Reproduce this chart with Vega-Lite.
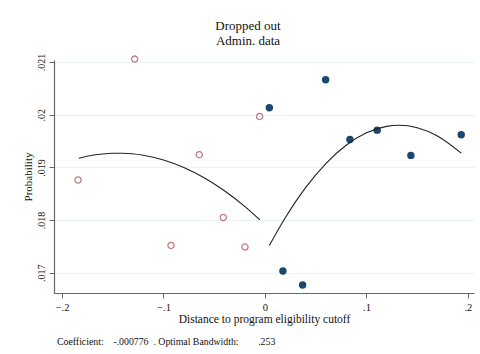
{
  "$schema": "https://vega.github.io/schema/vega-lite/v6.json",
  "autosize": {"type": "pad"},
  "padding": {"left": 22, "top": 20, "right": 7, "bottom": 5},
  "background": "white",
  "title": {
    "text": ["Dropped out", "Admin. data"],
    "font": "Liberation Serif",
    "fontSize": 13,
    "fontWeight": "normal",
    "color": "#111111",
    "anchor": "middle",
    "offset": 5,
    "lineHeight": 15
  },
  "datasets": {
    "pts": [
      {"x": -0.1842, "y": 0.018761, "side": "left"},
      {"x": -0.1284, "y": 0.021057, "side": "left"},
      {"x": -0.0926, "y": 0.017518, "side": "left"},
      {"x": -0.0647, "y": 0.019241, "side": "left"},
      {"x": -0.0411, "y": 0.018049, "side": "left"},
      {"x": -0.0197, "y": 0.017488, "side": "left"},
      {"x": -0.0053, "y": 0.019968, "side": "left"},
      {"x": 0.0043, "y": 0.020133, "side": "right"},
      {"x": 0.0177, "y": 0.017032, "side": "right"},
      {"x": 0.0371, "y": 0.016767, "side": "right"},
      {"x": 0.0598, "y": 0.020664, "side": "right"},
      {"x": 0.0837, "y": 0.019531, "side": "right"},
      {"x": 0.1106, "y": 0.019708, "side": "right"},
      {"x": 0.1438, "y": 0.019228, "side": "right"},
      {"x": 0.1934, "y": 0.01962, "side": "right"}
    ],
    "fit": [
      {"x": -0.1836, "y": 0.019174, "side": "left"},
      {"x": -0.17, "y": 0.01923, "side": "left"},
      {"x": -0.16, "y": 0.019256, "side": "left"},
      {"x": -0.15, "y": 0.019268, "side": "left"},
      {"x": -0.14, "y": 0.019268, "side": "left"},
      {"x": -0.12, "y": 0.01923, "side": "left"},
      {"x": -0.1, "y": 0.019139, "side": "left"},
      {"x": -0.08, "y": 0.018997, "side": "left"},
      {"x": -0.06, "y": 0.018803, "side": "left"},
      {"x": -0.04, "y": 0.018558, "side": "left"},
      {"x": -0.02, "y": 0.018261, "side": "left"},
      {"x": -0.005, "y": 0.018004, "side": "left"},
      {"x": 0.0043, "y": 0.017517, "side": "right"},
      {"x": 0.02, "y": 0.018044, "side": "right"},
      {"x": 0.04, "y": 0.018615, "side": "right"},
      {"x": 0.06, "y": 0.019074, "side": "right"},
      {"x": 0.08, "y": 0.019421, "side": "right"},
      {"x": 0.1, "y": 0.019657, "side": "right"},
      {"x": 0.12, "y": 0.01978, "side": "right"},
      {"x": 0.132, "y": 0.0198, "side": "right"},
      {"x": 0.15, "y": 0.019755, "side": "right"},
      {"x": 0.17, "y": 0.019598, "side": "right"},
      {"x": 0.1934, "y": 0.019272, "side": "right"}
    ]
  },
  "vconcat": [
    {
      "width": 420,
      "height": 233,
      "title": {
        "text": "Coefficient:\u00a0\u00a0\u00a0\u00a0-.000776\u00a0\u00a0. Optimal Bandwidth:\u00a0\u00a0\u00a0\u00a0\u00a0\u00a0\u00a0\u00a0.253",
        "orient": "bottom",
        "anchor": "start",
        "frame": "group",
        "font": "Liberation Serif",
        "fontSize": 9.8,
        "fontWeight": "normal",
        "color": "#111111",
        "offset": 12,
        "dx": 3
      },
      "layer": [
        {
          "data": {"name": "pts"},
          "transform": [{"filter": "datum.side == 'left'"}],
          "mark": {"type": "point", "shape": "circle", "filled": false, "size": 38, "strokeWidth": 1.3, "color": "#a8434a"},
          "encoding": {
            "x": {"field": "x", "type": "quantitative"},
            "y": {"field": "y", "type": "quantitative"}
          }
        },
        {
          "data": {"name": "pts"},
          "transform": [{"filter": "datum.side == 'right'"}],
          "mark": {"type": "circle", "size": 55, "opacity": 1, "color": "#1a476f"},
          "encoding": {
            "x": {"field": "x", "type": "quantitative"},
            "y": {"field": "y", "type": "quantitative"}
          }
        },
        {
          "data": {"name": "fit"},
          "mark": {"type": "line", "color": "#222222", "strokeWidth": 1.1, "interpolate": "monotone"},
          "encoding": {
            "x": {
              "field": "x",
              "type": "quantitative",
              "scale": {"domain": [-0.2079, 0.206], "nice": false, "zero": false},
              "axis": {
                "values": [-0.2, -0.1, 0, 0.1, 0.2],
                "labelExpr": "replace(format(datum.value, '.1~f'), '0.', '.')",
                "title": "Distance to program eligibility cutoff",
                "grid": false,
                "tickSize": 5,
                "labelPadding": 4,
                "labelFontSize": 10.5,
                "titleFontSize": 11.5,
                "titlePadding": 1
              }
            },
            "y": {
              "field": "y",
              "type": "quantitative",
              "scale": {"domain": [0.016615, 0.02104], "nice": false, "zero": false},
              "axis": {
                "values": [0.017, 0.018, 0.019, 0.02, 0.021],
                "labelExpr": "replace(format(datum.value, '.3~f'), '0.', '.')",
                "title": "Probability",
                "grid": true,
                "tickSize": 5,
                "labelAngle": -90,
                "labelAlign": "center",
                "labelBaseline": "bottom",
                "labelPadding": 3,
                "titlePadding": 3
              }
            },
            "detail": {"field": "side", "type": "nominal"}
          }
        }
      ]
    }
  ],
  "config": {
    "view": {"stroke": null},
    "axis": {
      "labelFont": "Liberation Serif",
      "labelFontSize": 10,
      "labelColor": "#111111",
      "titleFont": "Liberation Serif",
      "titleFontSize": 11,
      "titleFontWeight": "normal",
      "titleColor": "#111111",
      "domainColor": "#666666",
      "domainWidth": 1.2,
      "tickColor": "#666666",
      "gridColor": "#eaf2f3",
      "gridWidth": 1.2
    }
  }
}
